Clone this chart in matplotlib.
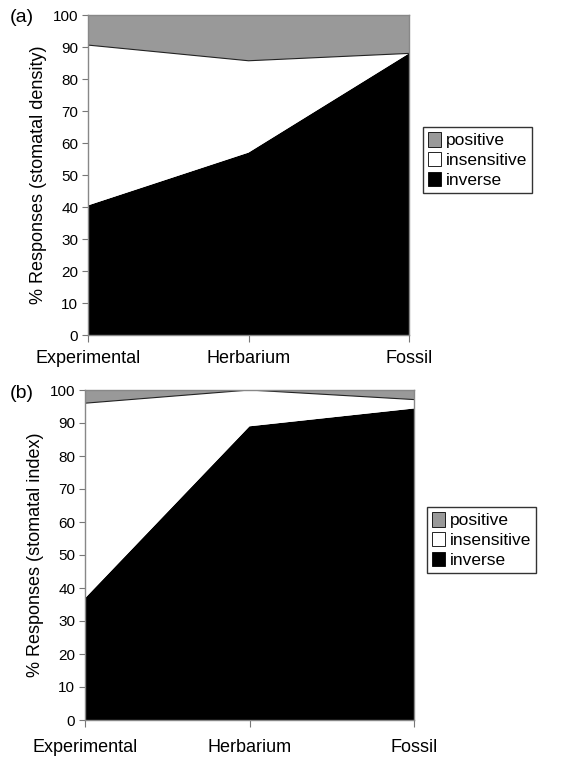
# Stacked area charts of stomatal responses

import matplotlib.pyplot as plt
from matplotlib.patches import Patch

plt.rcParams['font.family'] = ['Liberation Sans', 'DejaVu Sans']

categories = ['Experimental', 'Herbarium', 'Fossil']
series_names = ['positive', 'insensitive', 'inverse']

# (a) stomatal density
density_inverse = [40.5, 57.0, 88.0]
density_insensitive = [50.1, 28.7, 0.0]
density_positive = [9.4, 14.3, 12.0]

# (b) stomatal index
index_inverse = [36.9, 89.0, 94.4]
index_insensitive = [59.1, 11.0, 2.7]
index_positive = [4.0, 0.0, 2.9]

colors = {'positive': '#999999', 'insensitive': 'white', 'inverse': 'black'}

fig = plt.figure(figsize=(5.71, 7.58), dpi=100)
W, H = 571, 758


def panel(rect, inverse, insensitive, positive, ylabel, tag, legend_xy, xpad):
    l, t, r, b = rect
    ax = fig.add_axes([l / W, 1 - b / H, (r - l) / W, (b - t) / H])
    x = list(range(len(categories)))
    ax.stackplot(x, inverse, insensitive, positive,
                 colors=[colors['inverse'], colors['insensitive'], colors['positive']],
                 edgecolor='none')
    # thin boundary between insensitive and positive
    top = [a + c for a, c in zip(inverse, insensitive)]
    ax.plot(x, top, color='#222222', lw=0.8)
    ax.set_xlim(0, 2)
    ax.set_ylim(0, 100)
    ax.set_yticks(range(0, 101, 10))
    ax.set_xticks(x)
    ax.set_xticklabels(categories, fontsize=13)
    ax.tick_params(axis='y', labelsize=11, direction='out', length=4,
                   color='#777777', pad=3)
    ax.tick_params(axis='x', direction='out', length=5, color='#777777', pad=xpad)
    for s in ax.spines.values():
        s.set_color('#888888')
        s.set_linewidth(1.0)
    ax.set_ylabel(ylabel, fontsize=13, labelpad=4)
    fig.text(10 / W, 1 - (t + 3) / H, tag, fontsize=14, va='center', ha='left')

    handles = [Patch(facecolor=colors[n], edgecolor='black', lw=0.6, label=n)
               for n in series_names]
    leg = fig.legend(handles=handles, loc='upper left',
                     bbox_to_anchor=(legend_xy[0] / W, 1 - legend_xy[1] / H),
                     fontsize=12.5, frameon=True, fancybox=False,
                     handlelength=0.75, handleheight=0.9, handletextpad=0.25,
                     borderpad=0.3, labelspacing=0.2, borderaxespad=0)
    leg.get_frame().set_edgecolor('black')
    leg.get_frame().set_linewidth(1.0)
    return ax


panel((88, 15, 409, 335), density_inverse, density_insensitive, density_positive,
      '% Responses (stomatal density)', '(a)', (423, 127), 6)
panel((85, 390, 414, 720), index_inverse, index_insensitive, index_positive,
      '% Responses (stomatal index)', '(b)', (427, 507), 9)

fig.savefig('out.png', dpi=100)
